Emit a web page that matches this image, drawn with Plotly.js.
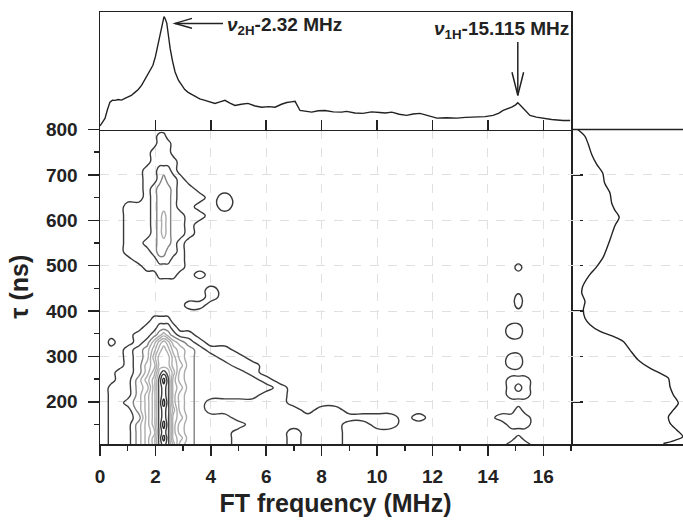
<!DOCTYPE html>
<html>
<head>
<meta charset="utf-8">
<script src="https://cdn.plot.ly/plotly-3.0.1.min.js"></script>
<style>
html,body{margin:0;padding:0;background:#fff;}
#chart{width:683px;height:521px;}
</style>
</head>
<body>
<div id="chart"></div>
<script>
// ---------- 2D contour map: FT frequency (MHz) columns x tau (ns) rows ----------
const freqCols = [0,0.2,0.4,0.7,1.0,1.4,1.7,1.95,2.15,2.3,2.45,2.65,2.9,3.2,3.6,4.0,4.5,5.0,5.5,6.0,
  6.5,7.0,7.5,8.0,8.5,9.0,9.5,10.0,10.5,11.0,11.5,12.0,13.0,14.0,14.5,14.85,15.1,15.35,15.7,16.0,17.0];
const tauRows = [800,785,770,750,730,710,690,670,650,630,610,590,570,550,530,512,496,480,463,446,
  430,413,397,380,364,348,331,315,298,280,265,248,231,215,198,182,165,150,132,120,107];
// intensity levels (hex digit per column), top row = 800 ns
const zRows = [
  "0000 0000 0000 0000 0000 0000 0000 0000 0000 0000 0",
  "0000 0000 1100 0000 0000 0000 0000 0000 0000 0000 0",
  "0000 0000 1110 0000 0000 0000 0000 0000 0000 0000 0",
  "0000 0001 1110 0000 0000 0000 0000 0000 0000 0000 0",
  "0000 0001 1111 0000 0000 0000 0000 0000 0000 0000 0",
  "0000 0011 2221 0000 0000 0000 0000 0000 0000 0000 0",
  "0000 0011 2322 1000 0000 0000 0000 0000 0000 0000 0",
  "0000 0012 3332 1100 0000 0000 0000 0000 0000 0000 0",
  "0000 0012 3332 1110 1000 0000 0000 0000 0000 0000 0",
  "0000 1112 3332 1100 1000 0000 0000 0000 0000 0000 0",
  "0000 1112 3432 2110 0000 0000 0000 0000 0000 0000 0",
  "0000 1112 3432 2100 0000 0000 0000 0000 0000 0000 0",
  "0000 1112 3432 2100 0000 0000 0000 0000 0000 0000 0",
  "0000 1122 3332 1000 0000 0000 0000 0000 0000 0000 0",
  "0000 1112 3322 1000 0000 0000 0000 0000 0000 0000 0",
  "0000 0111 2221 1000 0000 0000 0000 0000 0000 0000 0",
  "0000 0011 1111 1000 0000 0000 0000 0000 0000 1000 0",
  "0000 0000 1111 0010 0000 0000 0000 0000 0000 0000 0",
  "0000 0000 0000 0000 0000 0000 0000 0000 0000 0000 0",
  "0000 0000 0000 0001 0000 0000 0000 0000 0000 0000 0",
  "0000 0000 0000 0001 0000 0000 0000 0000 0000 1000 0",
  "0000 0000 0000 0110 0000 0000 0000 0000 0000 1000 0",
  "0000 0000 0000 0000 0000 0000 0000 0000 0000 0000 0",
  "0000 0001 1110 0000 0000 0000 0000 0000 0000 0000 0",
  "0000 0011 2221 0000 0000 0000 0000 0000 0001 1000 0",
  "0000 0112 3432 1100 0000 0000 0000 0000 0001 1000 0",
  "0010 0124 6764 3210 0000 0000 0000 0000 0000 0000 0",
  "0000 1235 7875 4321 1000 0000 0000 0000 0000 0000 0",
  "0000 1236 8886 4322 1100 0000 0000 0000 0001 1000 0",
  "0000 1245 8886 5322 2110 0000 0000 0000 0001 1000 0",
  "0001 1246 9a97 4322 2210 0000 0000 0000 0000 0000 0",
  "0001 1357 aca6 4322 2221 0000 0000 0000 0001 1100 0",
  "0011 1347 aba6 5322 2222 1000 0000 0000 0001 2100 0",
  "0011 1357 aba6 4322 2221 1000 0000 0000 0001 1100 0",
  "0011 2357 aca6 4321 1111 1000 0000 0000 0000 0000 0",
  "0011 1357 aba7 4321 1111 1101 1000 0000 0000 1000 0",
  "0011 1257 aba6 5322 2111 1111 1111 1010 0011 1100 0",
  "0011 1357 aca6 4322 2211 1111 1001 1000 0001 1100 0",
  "0011 1356 aba6 4322 2111 1011 1000 0000 0000 0000 0",
  "0011 1357 aca6 5322 2111 1011 1000 0000 0000 1000 0",
  "0011 1357 aba7 4322 2111 1011 1000 0000 0001 1100 0"
];

// ---------- top panel: projected FT spectrum ----------
const specFreq = [0,0.1,0.18,0.27,0.36,0.45,0.54,0.66,0.78,0.9,1.01,1.13,1.26,1.38,1.5,1.62,1.73,1.82,1.91,2.0,
  2.09,2.16,2.23,2.28,2.31,2.35,2.41,2.47,2.53,2.62,2.71,2.83,2.95,3.06,3.18,3.3,3.43,3.6,3.79,3.97,
  4.15,4.33,4.51,4.69,4.87,5.1,5.34,5.6,5.84,6.08,6.32,6.55,6.74,6.9,7.04,7.22,7.43,7.64,7.88,8.12,
  8.42,8.72,8.9,9.2,9.49,9.8,10.1,10.3,10.53,10.8,11.07,11.3,11.55,11.85,12.16,12.5,12.88,13.2,13.6,13.9,
  14.19,14.4,14.55,14.7,14.86,15.0,15.08,15.18,15.27,15.4,15.52,15.75,15.99,16.3,16.71,16.97];
const specAmp = [0.03,0.06,0.094,0.17,0.233,0.25,0.248,0.255,0.25,0.265,0.276,0.29,0.316,0.34,0.376,0.43,0.479,0.51,0.547,0.62,
  0.718,0.80,0.889,0.94,0.96,0.945,0.906,0.80,0.692,0.58,0.49,0.42,0.376,0.34,0.316,0.30,0.29,0.26,0.248,0.235,
  0.222,0.235,0.248,0.225,0.205,0.215,0.222,0.2,0.19,0.195,0.19,0.215,0.23,0.235,0.24,0.162,0.155,0.148,0.16,0.162,
  0.15,0.148,0.154,0.14,0.137,0.15,0.145,0.14,0.148,0.13,0.12,0.132,0.137,0.115,0.097,0.1,0.097,0.103,0.105,0.11,
  0.12,0.14,0.162,0.175,0.19,0.21,0.228,0.205,0.18,0.15,0.12,0.105,0.094,0.085,0.077,0.077];

// ---------- right panel: tau trace ----------
const traceTau = [800,785,767,745,723,704,682,660,638,623,607,587,557,520,498,476,454,440,421,403,
  384,370,355,344,333,314,292,274,263,252,233,215,197,182,167,153,138,123,114,108];
const traceAmp = [0.06,0.125,0.155,0.185,0.23,0.283,0.30,0.348,0.363,0.39,0.43,0.39,0.348,0.29,0.23,0.155,0.104,0.096,0.125,0.11,
  0.125,0.17,0.26,0.378,0.467,0.527,0.60,0.705,0.795,0.87,0.884,0.914,0.958,0.914,0.87,0.884,0.944,0.998,0.914,0.825];

// ---------- labels ----------
const xTitle = "FT frequency (MHz)";
const yTitle = "τ (ns)";
const label2H = "<i>ν</i><sub>2H</sub>-2.32 MHz";
const label1H = "<i>ν</i><sub>1H</sub>-15.115 MHz";

// ---------- build ----------
const zMatrix = zRows.map(r => r.replace(/ /g, '').split('').map(ch => parseInt(ch, 16))).reverse();
const tauAsc = tauRows.slice().reverse();

const FONT = "Liberation Sans, Arial, Helvetica, sans-serif";
const INK = "#222";
const xSplit = 471 / 583;   // main panel / right panel split
const ySplit = 0.728;       // main panel / top panel split

const contour = {
  type: 'contour', x: freqCols, y: tauAsc, z: zMatrix,
  xaxis: 'x', yaxis: 'y',
  autocontour: false,
  contours: {start: 0.5, end: 11.5, size: 1, coloring: 'lines'},
  zmin: 0.5, zmax: 11.5,
  colorscale: [[0, '#3a3a3a'], [0.1, '#404040'], [0.18, '#808080'], [0.26, '#ababab'],
               [0.75, '#b0b0b0'], [0.8, '#4a4a4a'], [1, '#2a2a2a']],
  line: {width: 1.4, smoothing: 1.3},
  showscale: false, hoverinfo: 'skip'
};
const spectrum = {
  type: 'scatter', mode: 'lines', x: specFreq, y: specAmp,
  xaxis: 'x2', yaxis: 'y2', line: {color: INK, width: 1.4}, hoverinfo: 'skip'
};
const tauTrace = {
  type: 'scatter', mode: 'lines', x: traceAmp, y: traceTau,
  xaxis: 'x3', yaxis: 'y', line: {color: INK, width: 1.4, shape: 'spline', smoothing: 0.8}, hoverinfo: 'skip'
};
const rightTicksDummy = {type: 'scatter', x: [], y: [], xaxis: 'x', yaxis: 'y4', hoverinfo: 'skip'};

const tickFont = {family: FONT, size: 19, color: INK, weight: 700};
const noTicks = {showticklabels: false, ticks: '', showgrid: false, zeroline: false};

const layout = {
  width: 683, height: 521,
  margin: {l: 100, r: 0, t: 12, b: 77},
  paper_bgcolor: '#fff', plot_bgcolor: 'rgba(0,0,0,0)',
  showlegend: false,
  font: {family: FONT, color: INK},
  xaxis: {
    domain: [0, xSplit], range: [0, 17], anchor: 'y',
    showline: true, linecolor: INK, linewidth: 1.5, mirror: false,
    ticks: 'outside', ticklen: 10, tickwidth: 1.5, tickcolor: INK, dtick: 2, tick0: 0,
    minor: {ticks: 'outside', ticklen: 5, tickwidth: 1.5, tickcolor: INK, dtick: 1, tick0: 0, showgrid: false},
    showgrid: true, gridcolor: '#e0e0e0', griddash: 'dash', gridwidth: 1, zeroline: false,
    tickfont: tickFont, ticklabelstandoff: 5,
    title: {text: xTitle, font: {family: FONT, size: 25, color: INK, weight: 700}, standoff: 8}
  },
  yaxis: {
    domain: [0, ySplit], range: [107, 800], anchor: 'x',
    showline: true, linecolor: INK, linewidth: 1.5, mirror: true,
    ticks: 'outside', ticklen: 11, tickwidth: 1.5, tickcolor: INK, dtick: 100, tick0: 0,
    minor: {ticks: 'outside', ticklen: 5, tickwidth: 1.5, tickcolor: INK, dtick: 50, tick0: 0, showgrid: false},
    showgrid: true, gridcolor: '#e0e0e0', griddash: 'dash', gridwidth: 1, zeroline: false,
    tickfont: tickFont, ticklabelstandoff: 6,
    title: {text: yTitle, font: {family: FONT, size: 25, color: INK, weight: 700}, standoff: 10}
  },
  yaxis4: {
    overlaying: 'y', side: 'right', anchor: 'x', range: [107, 800],
    ticks: 'outside', ticklen: 11, tickwidth: 1.5, tickcolor: INK, dtick: 100, tick0: 0,
    showticklabels: false, showgrid: false, zeroline: false, showline: false
  },
  xaxis2: Object.assign({}, noTicks, {
    domain: [0, xSplit], range: [0, 17], anchor: 'y2',
    showline: true, linecolor: INK, linewidth: 1.5, mirror: true,
    ticks: 'inside', ticklen: 10, tickwidth: 1.5, tickcolor: INK, dtick: 2, tick0: 0
  }),
  yaxis2: Object.assign({}, noTicks, {
    domain: [ySplit, 1], range: [0, 1], anchor: 'x2',
    showline: true, linecolor: INK, linewidth: 1.5, mirror: true
  }),
  xaxis3: Object.assign({}, noTicks, {
    domain: [xSplit, 1], range: [0, 1], anchor: 'y',
    showline: true, linecolor: INK, linewidth: 1.5, mirror: false
  }),
  shapes: [
    // top border of the right panel, continuing the line between the top and main panels
    {type: 'line', xref: 'paper', yref: 'paper', x0: xSplit, x1: 1, y0: ySplit, y1: ySplit, line: {color: INK, width: 1.5}},
    {type: 'line', xref: 'x2', yref: 'y2', x0: 2.71, y0: 0.903, x1: 4.44, y1: 0.903, line: {color: INK, width: 1.5}},
    {type: 'path', xref: 'x2', yref: 'y2', path: 'M 3.32 0.946 L 2.71 0.903 L 3.32 0.861', line: {color: INK, width: 1.5}},
    {type: 'line', xref: 'x2', yref: 'y2', x0: 15.08, y0: 0.744, x1: 15.08, y1: 0.29, line: {color: INK, width: 1.5}},
    {type: 'path', xref: 'x2', yref: 'y2', path: 'M 14.87 0.487 L 15.08 0.29 L 15.29 0.487', line: {color: INK, width: 1.5}}
  ],
  annotations: [
    {xref: 'x2', yref: 'y2', x: 4.5, y: 0.88, xanchor: 'left', yanchor: 'middle', showarrow: false,
     text: label2H, font: {family: FONT, size: 19, color: INK, weight: 700}},
    {xref: 'x2', yref: 'y2', x: 17.0, y: 0.846, xanchor: 'right', yanchor: 'middle', showarrow: false,
     text: label1H, font: {family: FONT, size: 19, color: INK, weight: 700}}
  ]
};

Plotly.newPlot('chart', [contour, spectrum, tauTrace, rightTicksDummy], layout, {staticPlot: true, displayModeBar: false});
</script>
</body>
</html>
